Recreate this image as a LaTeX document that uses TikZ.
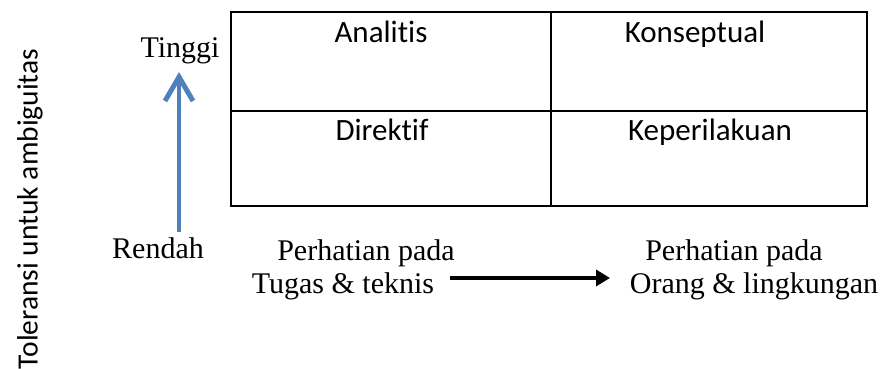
\documentclass[tikz,border=0pt]{standalone}
\usepackage{fontspec}
\setmainfont{Liberation Serif}
\newfontfamily\calib[Ligatures={NoCommon}]{Carlito}
\usetikzlibrary{arrows.meta}
\definecolor{axisblue}{RGB}{79,129,189}
\begin{document}
\begin{tikzpicture}[x=1pt,y=-1pt,
  cellbox/.style={draw=black, line width=1.6pt, inner sep=0pt, anchor=north west},
  celltext/.style={font=\calib\fontsize{31}{36}\selectfont, inner sep=0pt, anchor=base},
  sidetext/.style={font=\fontsize{30}{36}\selectfont, inner sep=0pt, anchor=base},
  bluearrow/.style={draw=axisblue, line width=4.5pt, -{Straight Barb[length=24pt,width=28pt,line width=5pt]}},
  blackarrow/.style={draw=black, line width=4.5pt, -{Triangle[length=14pt,width=16pt]}}
]
\useasboundingbox (0,0) rectangle (883,369);
% grid cells
\node[cellbox, minimum width=320pt, minimum height=99pt] (c11) at (230,11) {};
\node[cellbox, minimum width=316pt, minimum height=99pt] (c12) at (550,11) {};
\node[cellbox, minimum width=320pt, minimum height=95pt] (c21) at (230,110) {};
\node[cellbox, minimum width=316pt, minimum height=95pt] (c22) at (550,110) {};
% cell labels
\node[celltext] (analitis) at (381,43) {Analitis};
\node[celltext] (konseptual) at (695,43) {Konseptual};
\node[celltext] (direktif) at (382,140) {Direktif};
\node[celltext] (keperilakuan) at (710,140) {Keperilakuan};
% vertical axis
\node[font=\calib\fontsize{29.5}{34}\selectfont, rotate=90, inner sep=0pt] (tol) at (30,209) {Toleransi untuk ambiguitas};
\node[sidetext] (tinggi) at (180,58) {Tinggi};
\node[sidetext] (rendah) at (158,258) {Rendah};
\coordinate (bstart) at (179,232);
\coordinate (bend) at (179,72);
\draw[bluearrow] (bstart) -- (bend);
% horizontal axis
\node[sidetext] (perh1) at (366,260) {Perhatian pada};
\node[sidetext] (tugas) at (343,293) {Tugas \& teknis};
\node[sidetext] (perh2) at (734,260) {Perhatian pada};
\node[sidetext] (orang) at (754,293) {Orang \& lingkungan};
\coordinate (hstart) at (450,278);
\coordinate (hend) at (610,278);
\draw[blackarrow] (hstart) -- (hend);
\end{tikzpicture}
\end{document}
